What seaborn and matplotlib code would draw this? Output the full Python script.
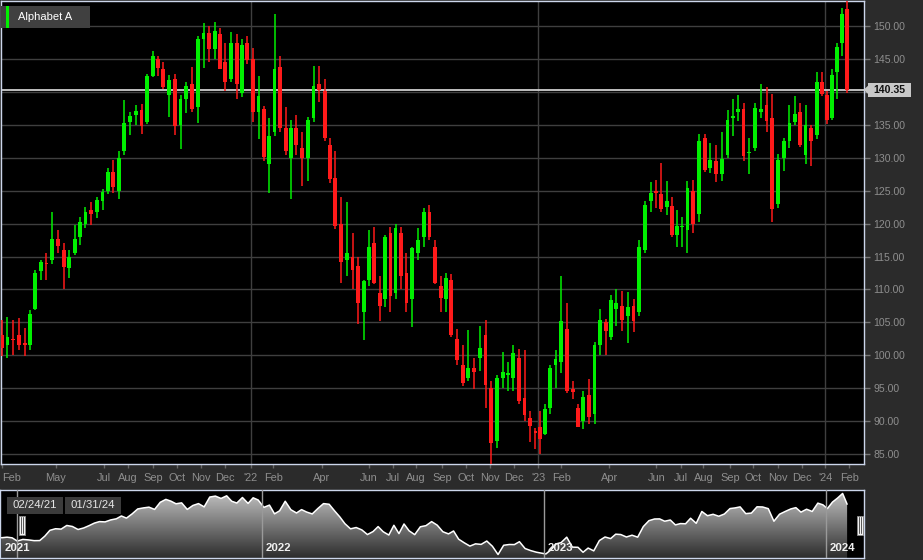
import numpy as np
import pandas as pd
import matplotlib
matplotlib.use("Agg")
import matplotlib.pyplot as plt
from matplotlib.patches import Rectangle, Polygon
from matplotlib.colors import LinearSegmentedColormap
import matplotlib.transforms as mtransforms
import seaborn as sns

# weekly OHLC for Alphabet A (weeks start on Monday)
week_start = pd.date_range("2021-02-01", periods=157, freq="W-MON")

opens = [
    # 2021
    92.0, 104.8, 105.0, 103.0, 101.5, 102.5, 103.0, 101.8, 101.5, 107.0,
    112.8, 114.0, 114.5, 117.6, 116.0, 113.2, 115.5, 118.0, 120.0, 122.0,
    121.8, 123.5, 125.0, 127.8, 125.0, 131.0, 135.5, 136.5, 137.3, 135.5,
    142.5, 145.0, 143.5, 139.5, 142.0, 135.0, 139.0, 141.3, 137.8, 148.0,
    149.0, 146.5, 148.8, 144.5, 142.0, 147.5, 139.8, 147.5,
    # 2022
    145.0, 137.0, 137.5, 129.0, 134.0, 143.8, 134.5, 130.0, 134.5, 131.5,
    130.0, 136.0, 141.2, 140.2, 132.0, 127.0, 120.0, 114.5, 115.0, 113.5,
    106.5, 111.5, 117.0, 109.5, 108.5, 118.5, 109.5, 118.5, 112.5, 108.5,
    115.5, 118.0, 121.8, 116.5, 110.5, 108.5, 111.5, 102.5, 98.5, 96.5,
    98.0, 99.5, 103.0, 95.0, 87.0, 96.5, 97.0, 96.5, 99.5, 93.5,
    90.5, 88.5,
    # 2023
    89.0, 88.0, 92.0, 98.5, 99.0, 104.0, 94.9, 92.0, 90.0, 94.0,
    91.0, 101.5, 105.0, 102.7, 107.0, 107.5, 106.0, 107.5, 106.5, 116.0,
    123.5, 125.0, 124.5, 122.5, 122.7, 118.2, 119.5, 119.0, 125.0, 121.5,
    133.0, 128.4, 129.5, 127.5, 130.5, 136.0, 137.0, 137.5, 130.7, 131.5,
    137.0, 138.0, 136.0, 123.0, 130.0, 132.5, 135.5, 137.0, 130.5, 134.5,
    133.5, 141.6,
    # 2024
    139.6, 136.0, 143.0, 147.5, 152.6,
]
highs = [
    105.8, 106.3, 106.8, 105.3, 105.8, 105.3, 105.6, 104.2, 106.8, 113.0,
    114.5, 115.6, 121.7, 119.0, 117.0, 116.0, 119.8, 121.0, 122.6, 123.3,
    124.0, 125.2, 128.5, 129.7, 131.0, 138.8, 137.0, 138.0, 138.2, 142.8,
    146.3, 145.5, 144.5, 142.6, 142.8, 139.5, 141.5, 143.8, 148.5, 150.5,
    150.0, 150.7, 149.8, 147.5, 149.2, 148.8, 148.0, 148.6,
    146.7, 142.5, 137.9, 136.0, 151.8, 145.5, 137.8, 135.8, 136.5, 134.0,
    136.2, 143.9, 143.9, 142.0, 133.0, 131.0, 124.0, 123.3, 118.6, 115.0,
    111.5, 119.0, 119.5, 112.0, 118.3, 119.5, 120.0, 119.5, 115.5, 116.5,
    119.3, 122.3, 122.9, 117.5, 112.0, 112.5, 112.3, 104.0, 101.5, 103.8,
    99.5, 104.5, 105.3, 96.0, 97.0, 100.5, 99.0, 101.5, 100.9, 100.8,
    91.5, 88.9,
    91.5, 92.5, 98.5, 100.8, 112.0, 108.0, 96.0, 92.5, 94.5, 96.3,
    102.0, 107.0, 105.5, 109.2, 110.0, 109.8, 109.6, 108.5, 117.5, 123.5,
    126.4, 126.7, 129.2, 126.5, 124.0, 122.0, 121.0, 126.5, 126.6, 133.7,
    133.7, 132.3, 132.0, 134.0, 137.3, 139.0, 139.5, 138.3, 133.0, 138.3,
    141.2, 140.8, 139.7, 130.6, 133.0, 138.0, 139.4, 138.4, 138.0, 135.0,
    143.0, 143.0,
    140.1, 143.5, 147.5, 152.8, 153.8,
]
lows = [
    91.5, 103.5, 103.8, 99.8, 99.5, 100.0, 100.8, 99.8, 100.8, 106.8,
    111.5, 111.5, 113.8, 115.5, 110.0, 111.8, 115.2, 116.8, 119.4, 119.8,
    120.8, 122.0, 124.5, 124.7, 123.7, 130.5, 133.5, 135.0, 133.6, 135.2,
    142.3, 142.5, 140.5, 136.2, 133.5, 131.3, 136.8, 137.0, 135.3, 143.6,
    144.5, 145.0, 143.5, 140.2, 141.5, 139.0, 139.3, 144.2,
    135.5, 132.8, 129.5, 124.6, 133.3, 134.0, 130.5, 123.7, 130.5, 125.7,
    126.5, 135.5, 138.5, 132.5, 126.2, 119.2, 111.0, 112.0, 110.0, 104.8,
    102.3, 110.5, 110.8, 105.2, 107.3, 106.5, 108.5, 110.0, 106.5, 104.3,
    114.5, 116.5, 117.5, 110.8, 106.5, 106.5, 102.8, 98.5, 95.3, 96.0,
    94.9, 97.6, 92.0, 83.45, 85.9, 95.0, 94.5, 94.5, 92.5, 90.0,
    86.8, 85.8,
    84.9, 87.9, 91.0, 95.0, 97.3, 94.3, 93.3, 89.0, 88.8, 89.5,
    89.6, 100.0, 100.0, 102.3, 104.4, 103.7, 101.8, 103.5, 106.0, 115.5,
    121.7, 122.3, 121.8, 121.3, 118.0, 116.4, 116.5, 115.6, 118.6, 120.2,
    127.8, 127.7, 126.4, 126.5, 130.0, 133.3, 135.6, 129.5, 127.5, 131.0,
    136.0, 134.0, 120.2, 122.4, 128.0, 131.5, 135.0, 131.7, 129.0, 128.8,
    132.8, 139.4,
    135.2, 135.7, 139.0, 145.5, 139.8,
]
closes = [
    104.6, 105.2, 104.5, 101.1, 102.8, 102.3, 101.5, 101.6, 106.3, 112.5,
    114.2, 113.8, 117.7, 116.6, 113.4, 115.0, 117.6, 120.2, 121.8, 121.5,
    123.6, 124.8, 127.8, 125.5, 130.0, 135.3, 136.4, 137.2, 134.8, 142.4,
    145.5, 143.6, 140.8, 141.8, 134.8, 139.0, 141.0, 137.5, 148.0, 149.0,
    146.5, 149.3, 143.5, 141.6, 147.5, 141.2, 147.2, 144.85,
    137.0, 139.4, 130.1, 133.3, 143.5, 134.5, 131.0, 134.6, 132.0, 130.0,
    135.8, 141.0, 140.3, 133.0, 126.8, 119.6, 114.1, 115.5, 113.0, 108.0,
    111.2, 116.5, 111.0, 107.5, 117.9, 109.0, 119.3, 112.0, 107.9, 116.3,
    117.5, 121.8, 118.0, 111.0, 108.7, 111.8, 103.1, 99.2, 95.7, 98.1,
    97.5, 101.1, 95.5, 86.7, 96.6, 97.4, 97.3, 100.4, 93.1, 90.9,
    89.2, 88.2,
    87.3, 91.8, 98.0, 99.4, 105.2, 94.6, 94.4, 89.1, 93.6, 90.6,
    101.6, 105.4, 103.7, 108.4, 108.0, 105.4, 107.3, 105.2, 116.5, 122.8,
    124.6, 124.7, 122.2, 123.5, 118.3, 119.7, 119.5, 125.4, 120.0, 132.6,
    128.1, 129.6, 127.5, 129.9, 135.7, 136.4, 137.5, 130.3, 130.9, 137.6,
    137.4, 135.6, 122.2, 129.7, 132.6, 135.3, 136.7, 131.9, 135.0, 132.6,
    141.5, 139.7,
    135.7, 142.6, 146.9, 151.8, 140.35,
]
last_price = 140.35
series_name = "Alphabet A"
range_from = "02/24/21"
range_to = "01/31/24"

# market holidays, the x axis only counts trading days
holidays = [
    "2021-02-15", "2021-04-02", "2021-05-31", "2021-07-05", "2021-09-06",
    "2021-11-25", "2021-12-24", "2022-01-17", "2022-02-21", "2022-04-15",
    "2022-05-30", "2022-06-20", "2022-07-04", "2022-09-05", "2022-11-24",
    "2022-12-26", "2023-01-02", "2023-01-16", "2023-02-20", "2023-04-07",
    "2023-05-29", "2023-06-19", "2023-07-04", "2023-09-04", "2023-11-23",
    "2023-12-25", "2024-01-01", "2024-01-15",
]

tick_dates = [
    "2021-02-24", "2021-05-03", "2021-07-01", "2021-08-02", "2021-09-01",
    "2021-10-01", "2021-11-01", "2021-12-01", "2022-01-03", "2022-02-01",
    "2022-04-01", "2022-06-01", "2022-07-01", "2022-08-01", "2022-09-01",
    "2022-10-03", "2022-11-01", "2022-12-01", "2023-01-03", "2023-02-01",
    "2023-04-03", "2023-06-01", "2023-07-03", "2023-08-01", "2023-09-01",
    "2023-10-02", "2023-11-01", "2023-12-01", "2024-01-02", "2024-02-01",
]
tick_labels = [
    "Feb", "May", "Jul", "Aug", "Sep", "Oct", "Nov", "Dec", "'22", "Feb",
    "Apr", "Jun", "Jul", "Aug", "Sep", "Oct", "Nov", "Dec", "'23", "Feb",
    "Apr", "Jun", "Jul", "Aug", "Sep", "Oct", "Nov", "Dec", "'24", "Feb",
]
year_dates = ["2022-01-03", "2023-01-03", "2024-01-02"]
year_labels = ["2022", "2023", "2024"]

# ---- trading day positions ----
days = pd.bdate_range("2021-02-01", "2024-01-31", freq="C", holidays=holidays)
origin = days.get_loc(pd.Timestamp("2021-02-24"))
day_pos = np.arange(len(days)) - origin


def pos_of(d):
    return days.searchsorted(pd.Timestamp(d)) - origin


week_x = []
for ws in week_start:
    m = (days >= ws) & (days < ws + pd.Timedelta(days=7))
    week_x.append(day_pos[m].mean())

df = pd.DataFrame({"x": week_x, "open": opens, "high": highs,
                   "low": lows, "close": closes})
df["up"] = df["close"] >= df["open"]

# ---- style ----
BG = "#2b2b2b"
GREEN = "#00f000"
RED = "#ff1a1a"
GRID = "#3f3f3f"
EDGE = "#ccd6eb"
TXT = "#8e8e8e"

sns.set_theme(style="dark")
plt.rcParams["font.family"] = ["Liberation Sans", "DejaVu Sans"]

W, H = 923, 560
fig = plt.figure(figsize=(W / 100, H / 100), dpi=100)
fig.patch.set_facecolor(BG)


def fx(px):
    return px / W


def fy(py):
    return 1 - py / H


X0, X1 = -0.6, 752
Y0, Y1 = 83.45, 153.85

# ---- main chart ----
ax = fig.add_axes([fx(1), fy(464), 863 / W, 463 / H])
ax.set_facecolor("black")

cols = np.where(df["up"], GREEN, RED)
ax.vlines(df["x"], df["low"], df["high"], colors=cols, lw=1.1, zorder=3)
body = np.maximum((df["close"] - df["open"]).abs(), 0.2)
ax.bar(df["x"], body, bottom=np.minimum(df["open"], df["close"]),
       width=3.3, color=cols, linewidth=0, zorder=3)

ax.axhline(last_price, color="#cfcfcf", lw=1.3, zorder=2)
for d in year_dates:
    ax.axvline(pos_of(d), color=GRID, lw=1, zorder=1)

ax.set_xlim(X0, X1)
ax.set_ylim(Y0, Y1)

# the 140.00 label sits under the last price box, so it is left blank
yt = np.arange(85, 151, 5)
ax.set_yticks(yt)
ax.set_yticklabels(["" if v == 140 else f"{v:.2f}" for v in yt])
ax.yaxis.tick_right()
ax.grid(axis="y", color=GRID, lw=1)
ax.grid(axis="x", visible=False)
ax.set_axisbelow(True)
ax.tick_params(axis="y", right=True, left=False, length=4.3, width=1,
               color="#777777", pad=2.2, labelsize=7.6, labelcolor=TXT)

ax.set_xticks([pos_of(d) for d in tick_dates])
ax.set_xticklabels(tick_labels)
ax.tick_params(axis="x", bottom=True, length=2.9, width=1, color="#666666",
               pad=3.4, labelsize=7.9, labelcolor=TXT)
ax.get_xticklabels()[0].set_horizontalalignment("left")
for s in ax.spines.values():
    s.set_visible(True)
    s.set_color(EDGE)
    s.set_linewidth(1)

# last price label on the right axis
y_disp = ax.transData.transform((0, last_price))[1]
fig.patches.append(Rectangle((fx(868), (y_disp - 7) / H), 43 / W, 14 / H,
                             transform=fig.transFigure, fc="#c8c8c8", ec="none"))
fig.patches.append(Polygon([(fx(863.5), y_disp / H), (fx(868), (y_disp + 4) / H),
                            (fx(868), (y_disp - 4) / H)],
                           transform=fig.transFigure, fc="#c8c8c8", ec="none"))
fig.text(fx(889.5), y_disp / H, f"{last_price:.2f}", ha="center", va="center",
         fontsize=7.6, fontweight="bold", color="#111111")

# legend box
fig.patches.append(Rectangle((fx(1), fy(28)), 89 / W, 22 / H,
                             transform=fig.transFigure, fc="#404040", ec="none"))
fig.patches.append(Rectangle((fx(6), fy(28)), 3 / W, 22 / H,
                             transform=fig.transFigure, fc=GREEN, ec="none"))
fig.text(fx(18), fy(17.5), series_name, ha="left", va="center",
         fontsize=8, color="white")

# ---- navigator ----
NX0 = -15.3
NY0, NY1 = 83.0, 155.5
nav = fig.add_axes([0, fy(558), 864 / W, 68 / H])
nav.set_facecolor("black")

fill = nav.fill_between(df["x"], df["close"], NY0, color="none", lw=0)
grad = np.linspace(1, 0, 256).reshape(-1, 1)
cmap = LinearSegmentedColormap.from_list("nav", ["#2c2c2c", "#c6c6c6"])
im = nav.imshow(grad, extent=[NX0, X1, NY0, NY1], aspect="auto", cmap=cmap,
                vmin=0, vmax=1, origin="upper", zorder=1)
im.set_clip_path(fill.get_paths()[0], transform=nav.transData)
sns.lineplot(x=df["x"], y=df["close"], ax=nav, color="white", lw=1.1,
             legend=False, zorder=3)

nav.set_xlim(NX0, X1)
nav.set_ylim(NY0, NY1)
nav.set_xticks([])
nav.set_yticks([])
nav.set_xlabel("")
nav.set_ylabel("")
nav.grid(False)
for s in nav.spines.values():
    s.set_visible(True)
    s.set_color(EDGE)
    s.set_linewidth(1)

ytr = mtransforms.blended_transform_factory(nav.transData, nav.transAxes)
for d, lab in zip(year_dates, year_labels):
    p = pos_of(d)
    nav.axvline(p, color="#9a9a9a", lw=1, zorder=4)
    nav.text(p + 3.2, 0.15, lab, transform=ytr, ha="left", va="center",
             fontsize=8.2, fontweight="semibold", color="#f0f0f0", zorder=5)
nav.text(5 / 864, 0.15, "2021", transform=nav.transAxes, ha="left",
         va="center", fontsize=8.2, fontweight="semibold", color="#f0f0f0",
         zorder=5)
nav.axvline(0, color="#9a9a9a", lw=1, zorder=4)

# navigator handles
for hx in (19, 857):
    fig.patches.append(Rectangle((fx(hx), fy(535)), 6 / W, 19 / H,
                                 transform=fig.transFigure, fc="#f2f2f2",
                                 ec="#8a8a8a", lw=0.6))
    for sx in (hx + 2, hx + 4):
        fig.lines.append(plt.Line2D([fx(sx), fx(sx)], [fy(533), fy(517)],
                                    transform=fig.transFigure,
                                    color="#555555", lw=0.7))

# range inputs
for bx, txt in ((7, range_from), (65, range_to)):
    fig.patches.append(Rectangle((fx(bx), fy(514)), 56 / W, 17 / H,
                                 transform=fig.transFigure, fc="#3b3b3b",
                                 ec="none"))
    fig.text(fx(bx + 28), fy(505.5), txt, ha="center", va="center",
             fontsize=8.2, color="#e6e6e6")

fig.savefig("out.png", dpi=100, facecolor=BG)
